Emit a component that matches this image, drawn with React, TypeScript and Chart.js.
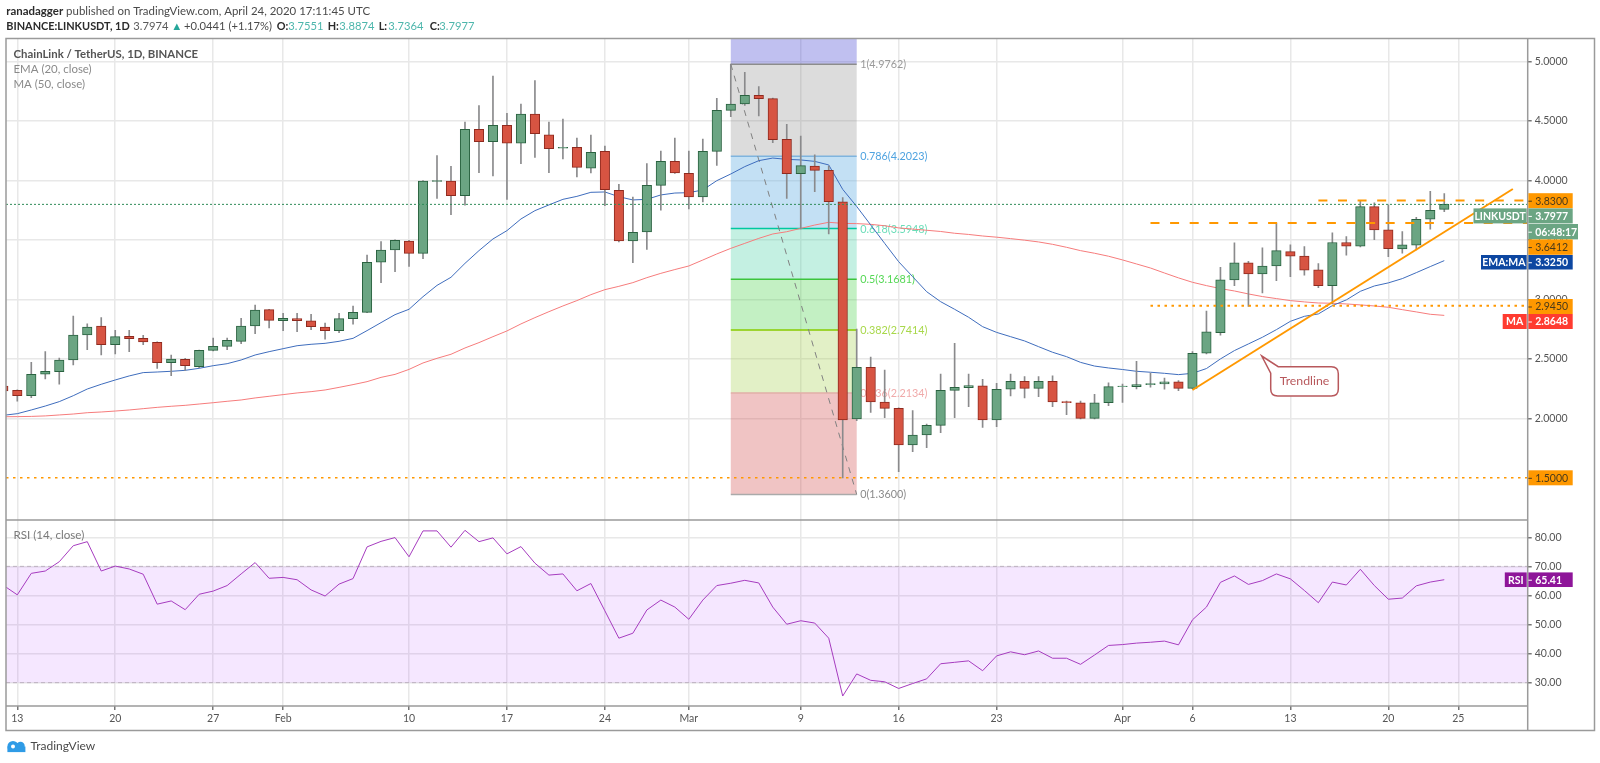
import React, { useEffect, useRef } from "react";
import { Chart, registerables } from "chart.js";

Chart.register(...registerables);

// ---- candles (first entry is Jan 12 2020, one candle per day) ----
const opens = [2.27,2.235,2.19,2.37,2.392,2.49,2.70,2.776,2.619,2.689,2.672,2.638,2.468,2.496,2.434,2.571,2.605,2.647,2.776,2.913,2.82,2.837,2.82,2.767,2.737,2.837,2.89,3.311,3.414,3.49,3.386,3.991,3.994,3.871,4.428,4.325,4.462,4.311,4.557,4.383,4.269,4.277,4.101,4.243,3.916,3.49,3.566,3.958,4.159,4.059,3.86,4.243,4.588,4.641,4.714,4.686,4.344,4.056,4.12,4.084,3.82,1.994,2.428,2.137,2.084,1.776,1.86,1.941,2.235,2.258,2.272,1.986,2.244,2.311,2.252,2.311,2.14,2.131,2.0,2.131,2.266,2.266,2.283,2.289,2.306,2.252,2.547,2.72,3.163,3.306,3.213,3.28,3.401,3.364,3.247,3.115,3.477,3.446,3.779,3.583,3.423,3.454,3.673,3.7551];
const highs = [2.28,2.24,2.47,2.56,2.507,2.86,2.793,2.846,2.739,2.739,2.697,2.642,2.532,2.504,2.574,2.675,2.675,2.84,2.952,2.915,2.882,2.882,2.874,2.801,2.882,2.944,3.372,3.484,3.50,3.496,3.997,4.207,4.117,4.49,4.627,4.876,4.563,4.641,4.837,4.49,4.515,4.355,4.381,4.288,3.966,3.86,4.14,4.246,4.355,4.246,4.347,4.689,4.976,4.907,4.787,4.69,4.47,4.372,4.213,4.12,3.854,2.75,2.515,2.406,2.087,2.064,1.952,2.372,2.63,2.372,2.328,2.294,2.372,2.35,2.35,2.356,2.145,2.145,2.201,2.299,2.288,2.479,2.381,2.339,2.317,2.56,2.902,3.269,3.474,3.32,3.432,3.641,3.457,3.443,3.30,3.558,3.527,3.83,3.81,3.793,3.569,3.689,3.908,3.8874];
const lows = [2.23,2.145,2.173,2.33,2.286,2.448,2.577,2.532,2.54,2.56,2.619,2.42,2.358,2.403,2.426,2.566,2.577,2.627,2.711,2.759,2.737,2.728,2.745,2.666,2.72,2.79,2.888,3.14,3.232,3.277,3.341,3.848,3.711,3.79,4.064,4.036,3.84,4.14,4.193,4.064,4.179,4.028,4.061,3.787,3.482,3.308,3.42,3.75,4.058,3.759,3.818,4.126,4.535,4.63,4.54,4.316,3.848,3.591,3.905,3.549,1.5,1.98,2.05,2.005,1.552,1.72,1.753,1.879,2.005,2.098,1.924,1.93,2.188,2.171,2.182,2.098,2.03,1.995,1.994,2.106,2.134,2.247,2.261,2.244,2.233,2.25,2.54,2.698,3.115,2.941,3.054,3.157,3.191,3.202,3.098,2.961,3.37,3.44,3.502,3.359,3.387,3.415,3.589,3.7364];
const closes = [2.23,2.19,2.37,2.395,2.49,2.70,2.767,2.619,2.686,2.669,2.641,2.468,2.498,2.442,2.571,2.605,2.655,2.776,2.91,2.823,2.84,2.82,2.77,2.737,2.837,2.89,3.311,3.414,3.496,3.386,3.994,3.997,3.871,4.428,4.325,4.462,4.311,4.557,4.392,4.266,4.277,4.109,4.235,3.921,3.49,3.563,3.958,4.159,4.061,3.86,4.243,4.588,4.641,4.714,4.686,4.341,4.056,4.123,4.084,3.82,1.986,2.428,2.137,2.084,1.776,1.86,1.941,2.235,2.26,2.274,1.986,2.244,2.311,2.252,2.311,2.137,2.132,2.0,2.131,2.266,2.271,2.283,2.292,2.306,2.252,2.547,2.726,3.163,3.306,3.213,3.28,3.409,3.362,3.244,3.115,3.477,3.446,3.779,3.583,3.426,3.457,3.673,3.748,3.7977];

// ---- moving averages and RSI, same days as the candles ----
const ema20 = [2.025,2.039,2.07,2.103,2.14,2.19,2.246,2.286,2.322,2.356,2.384,2.389,2.395,2.403,2.42,2.442,2.459,2.49,2.532,2.56,2.585,2.61,2.622,2.63,2.647,2.672,2.737,2.804,2.871,2.916,3.022,3.117,3.185,3.302,3.409,3.507,3.577,3.675,3.745,3.793,3.84,3.865,3.899,3.902,3.862,3.835,3.84,3.877,3.893,3.896,3.919,3.997,4.053,4.115,4.165,4.187,4.176,4.171,4.159,4.129,3.924,3.78,3.625,3.47,3.316,3.19,3.064,2.98,2.916,2.849,2.77,2.722,2.686,2.65,2.602,2.555,2.518,2.47,2.439,2.423,2.41,2.395,2.387,2.378,2.367,2.378,2.418,2.499,2.569,2.625,2.681,2.745,2.815,2.857,2.877,2.947,2.995,3.067,3.112,3.138,3.174,3.224,3.275,3.325];
const ma50 = [2.013,2.014,2.016,2.02,2.028,2.036,2.047,2.053,2.061,2.07,2.081,2.092,2.101,2.109,2.12,2.131,2.143,2.154,2.171,2.185,2.199,2.213,2.224,2.238,2.26,2.283,2.308,2.344,2.369,2.411,2.465,2.504,2.538,2.591,2.636,2.686,2.734,2.793,2.846,2.896,2.944,2.989,3.039,3.081,3.109,3.14,3.182,3.218,3.25,3.28,3.33,3.381,3.428,3.47,3.512,3.549,3.568,3.596,3.624,3.647,3.638,3.636,3.63,3.618,3.60,3.59,3.58,3.57,3.555,3.545,3.532,3.522,3.51,3.497,3.482,3.462,3.437,3.409,3.387,3.362,3.331,3.297,3.263,3.221,3.18,3.143,3.115,3.09,3.07,3.045,3.023,3.006,2.989,2.978,2.969,2.967,2.961,2.953,2.944,2.933,2.913,2.894,2.874,2.8648];
const rsi14 = [63.5,60.2,67.6,68.4,71.6,77.1,78.5,68.4,70.1,69.1,67.3,57.0,58.1,55.1,60.4,61.5,63.4,67.4,71.3,65.9,66.2,65.4,61.9,59.8,63.9,65.8,76.7,78.6,79.9,73.3,82.2,82.2,76.6,82.4,78.5,79.8,74.3,76.8,71.1,67.0,67.4,61.6,64.1,54.7,45.3,47.0,55.0,58.4,56.0,51.8,58.4,63.4,64.2,65.2,64.3,56.0,50.1,51.3,50.5,45.3,25.4,33.0,30.8,30.3,28.0,29.7,31.3,36.5,37.0,37.5,34.1,39.2,40.6,39.6,40.9,38.4,38.4,36.3,39.5,42.8,43.1,43.6,43.9,44.3,43.0,51.6,56.0,64.5,66.7,63.8,65.1,67.4,65.7,61.7,57.5,64.6,63.6,69.0,63.4,58.7,59.1,63.3,64.6,65.41];

// ---- axes ----
const tickDays = [0,7,14,19,28,35,42,48,56,63,70,79,84,91,98,103];
const tickLabels = ["13","20","27","Feb","10","17","24","Mar","9","16","23","Apr","6","13","20","25"];
const priceTicks = [2,2.5,3,3.5,4,4.5,5];
const rsiTicks = [30,40,50,60,70,80];
const rsiBand = [30,70];

// ---- drawings ----
const fibLevels = [1,0.786,0.618,0.5,0.382,0.236,0];
const fibPrices = [4.9762,4.2023,3.5948,3.1681,2.7414,2.2134,1.36];
const fibDays = [51,60];
const trendDays = [84,106.9];
const trendPrices = [2.238,3.927];
const calloutTip = [88.95,2.5235];
const level383 = 3.83;
const level364 = 3.6412;
const level294 = 2.945;
const level150 = 1.5;
const lastClose = 3.7977;
const levelStartDay = [93,81,81];

const FONT = "Lato, 'Open Sans', sans-serif";
const AXIS_X = 1527.7;
const TOP = 38.5;
const SPLIT = 520;
const XAXIS_Y = 706;
const FRAME_R = 1594.5;
const FRAME_B = 730.5;

const UP = "#6BA583", UP_B = "#2A6240", DN = "#D75442", DN_B = "#8F2A1F", WICK = "#8A8A8C";
const fibFill = ["rgba(45,45,205,0.30)","rgba(128,128,128,0.28)","rgba(97,173,226,0.38)","rgba(58,205,158,0.30)","rgba(55,205,55,0.30)","rgba(158,205,65,0.30)","rgba(205,59,59,0.30)"];
const fibLine = ["#8C8C8C","#7FB4DE","#00C8A0","#3CC43C","#88CC00","#E2B0A8","#AAAAAA"];
const fibText = ["#9A9A9A","#4FA3E0","#6ADDB8","#55D855","#A8D84A","#F0AAAA","#8A8A8A"];

type Run = [string, string, boolean?];

function runs(ctx: CanvasRenderingContext2D, x: number, y: number, size: number, items: Run[]) {
  ctx.textAlign = "left";
  ctx.textBaseline = "middle";
  let cx = x;
  for (const [t, c, b] of items) {
    ctx.font = `${b ? "bold " : ""}${size}px ${FONT}`;
    ctx.fillStyle = c;
    ctx.fillText(t, cx, y);
    cx += ctx.measureText(t).width;
  }
}

function hline(ctx: CanvasRenderingContext2D, x0: number, x1: number, y: number, color: string, w: number, dash: number[]) {
  ctx.save();
  ctx.strokeStyle = color;
  ctx.lineWidth = w;
  ctx.setLineDash(dash);
  ctx.beginPath();
  ctx.moveTo(x0, y);
  ctx.lineTo(x1, y);
  ctx.stroke();
  ctx.restore();
}

const underlay = {
  id: "underlay",
  beforeDatasetsDraw(chart: any) {
    const { ctx, scales } = chart;
    const { x, y, yRsi } = scales;
    const xl = x.left;
    ctx.save();
    // RSI band
    const by0 = yRsi.getPixelForValue(rsiBand[1]);
    const by1 = yRsi.getPixelForValue(rsiBand[0]);
    ctx.fillStyle = "rgba(153,21,255,0.10)";
    ctx.fillRect(xl, by0, AXIS_X - xl, by1 - by0);
    hline(ctx, xl, AXIS_X, by0, "#BDB2C0", 1, [4, 3]);
    hline(ctx, xl, AXIS_X, by1, "#BDB2C0", 1, [4, 3]);
    // Fibonacci retracement
    const fx0 = x.getPixelForValue(fibDays[0]);
    const fx1 = x.getPixelForValue(fibDays[1]);
    let prev = y.top;
    fibPrices.forEach((p, i) => {
      const py = y.getPixelForValue(p);
      ctx.fillStyle = fibFill[i];
      ctx.fillRect(fx0, prev, fx1 - fx0, py - prev);
      prev = py;
    });
    fibPrices.forEach((p, i) => {
      const py = y.getPixelForValue(p);
      hline(ctx, fx0, fx1, py, fibLine[i], 1.5, []);
      ctx.font = `10.8px ${FONT}`;
      ctx.fillStyle = fibText[i];
      ctx.textAlign = "left";
      ctx.textBaseline = "middle";
      ctx.fillText(`${fibLevels[i]}(${p.toFixed(4)})`, fx1 + 3.5, py + 0.5);
    });
    ctx.strokeStyle = "#808080";
    ctx.lineWidth = 1;
    ctx.setLineDash([6, 6]);
    ctx.beginPath();
    ctx.moveTo(fx0, y.getPixelForValue(fibPrices[0]));
    ctx.lineTo(fx1, y.getPixelForValue(fibPrices[6]));
    ctx.stroke();
    ctx.restore();
  },
};

const overlay = {
  id: "overlay",
  afterDatasetsDraw(chart: any) {
    const { ctx, scales } = chart;
    const { x, y, yRsi } = scales;
    const xl = x.left;
    ctx.save();
    // horizontal levels
    const ORANGE = "#FF9800";
    hline(ctx, xl, AXIS_X, y.getPixelForValue(lastClose), "#2E8B57", 1, [2, 2]);
    hline(ctx, xl, AXIS_X, y.getPixelForValue(level150), ORANGE, 1.5, [2.5, 4.5]);
    hline(ctx, x.getPixelForValue(levelStartDay[0]), AXIS_X, y.getPixelForValue(level383), ORANGE, 2, [9, 10.6]);
    hline(ctx, x.getPixelForValue(levelStartDay[1]), AXIS_X, y.getPixelForValue(level364), ORANGE, 2, [9, 10.6]);
    hline(ctx, x.getPixelForValue(levelStartDay[2]), AXIS_X, y.getPixelForValue(level294), ORANGE, 2, [2.5, 4.5]);
    // trend line
    ctx.strokeStyle = ORANGE;
    ctx.lineWidth = 2;
    ctx.beginPath();
    ctx.moveTo(x.getPixelForValue(trendDays[0]), y.getPixelForValue(trendPrices[0]));
    ctx.lineTo(x.getPixelForValue(trendDays[1]), y.getPixelForValue(trendPrices[1]));
    ctx.stroke();
    // callout
    const tx = x.getPixelForValue(calloutTip[0]);
    const ty = y.getPixelForValue(calloutTip[1]);
    const bl = tx + 9, bt = ty + 10.7, br = tx + 76.6, bb = ty + 40, rad = 7;
    ctx.beginPath();
    ctx.moveTo(tx, ty);
    ctx.lineTo(tx + 16.5, bt);
    ctx.lineTo(br - rad, bt);
    ctx.quadraticCurveTo(br, bt, br, bt + rad);
    ctx.lineTo(br, bb - rad);
    ctx.quadraticCurveTo(br, bb, br - rad, bb);
    ctx.lineTo(bl + rad, bb);
    ctx.quadraticCurveTo(bl, bb, bl, bb - rad);
    ctx.lineTo(bl, bt + 6.5);
    ctx.closePath();
    ctx.fillStyle = "#FFFFFF";
    ctx.fill();
    ctx.strokeStyle = "#B8585C";
    ctx.lineWidth = 1.5;
    ctx.stroke();
    ctx.font = `12.3px ${FONT}`;
    ctx.fillStyle = "#B8585C";
    ctx.textAlign = "center";
    ctx.textBaseline = "middle";
    ctx.fillText("Trendline", (bl + br) / 2, (bt + bb) / 2);
    // panel frame
    ctx.fillStyle = "#FFFFFF";
    ctx.fillRect(0, 0, 1600, TOP - 0.75);
    ctx.strokeStyle = "#9A9A9A";
    ctx.lineWidth = 1.5;
    ctx.strokeRect(6, TOP, FRAME_R - 6, FRAME_B - TOP);
    hline(ctx, 6, AXIS_X, SPLIT, "#9A9A9A", 1.5, []);
    hline(ctx, 6, AXIS_X, XAXIS_Y, "#9A9A9A", 1.5, []);
    ctx.beginPath();
    ctx.moveTo(AXIS_X, TOP);
    ctx.lineTo(AXIS_X, FRAME_B);
    ctx.stroke();
    // header
    runs(ctx, 6.3, 11, 11.45, [["ranadagger", "#2B2B2B", true], [" published on TradingView.com, April 24, 2020 17:11:45 UTC", "#4A4A4A"]]);
    runs(ctx, 6.3, 26.7, 10.9, [["BINANCE:LINKUSDT, 1D", "#2B2B2B", true]]);
    runs(ctx, 133.3, 26.7, 11.2, [["3.7974", "#5A5A5A"]]);
    runs(ctx, 171.2, 26.7, 11.2, [["▲", "#26A69A"]]);
    runs(ctx, 184, 26.7, 11.2, [["+0.0441 (+1.17%)", "#4A4A4A"]]);
    const ohlcLabels = ["O:", "H:", "L:", "C:"];
    const ohlcTexts = ["3.7551", "3.8874", "3.7364", "3.7977"];
    ohlcLabels.forEach((lab, i) => {
      runs(ctx, 276.7 + i * 51, 26.7, 10.9, [[lab, "#2B2B2B", true]]);
      runs(ctx, 288.3 + i * 51 - (i >= 2 ? 2 : 0), 26.7, 11.2, [[ohlcTexts[i], "#4DB6AC"]]);
    });
    runs(ctx, 13.5, 54, 11.4, [["ChainLink / TetherUS, 1D, BINANCE", "#555555", true]]);
    runs(ctx, 13.5, 69.5, 11.45, [["EMA (20, close)", "#8A8A8A"]]);
    runs(ctx, 13.5, 84.7, 11.45, [["MA (50, close)", "#8A8A8A"]]);
    runs(ctx, 13.5, 535.7, 11.6, [["RSI (14, close)", "#7A7A7A"]]);
    // price tags
    const tag = (text: string, top: number, h: number, bg: string, fg: string, leftText?: string, leftX?: number, w = 44.3) => {
      if (leftText) {
        ctx.fillStyle = bg;
        ctx.fillRect(leftX, top, AXIS_X - leftX! - 1, h);
        ctx.font = `bold 10.5px ${FONT}`;
        ctx.fillStyle = fg;
        ctx.textAlign = "center";
        ctx.textBaseline = "middle";
        ctx.fillText(leftText, (leftX! + AXIS_X) / 2 - 0.5, top + h / 2 + 0.5);
      }
      ctx.fillStyle = bg;
      ctx.fillRect(AXIS_X + 0.7, top, w, h);
      ctx.fillStyle = fg;
      ctx.fillRect(AXIS_X + 0.7, top + h / 2, 3.5, 1);
      ctx.font = `${fg === "#FFFFFF" ? "bold " : ""}10.5px ${FONT}`;
      ctx.fillStyle = fg;
      ctx.textAlign = "left";
      ctx.textBaseline = "middle";
      ctx.fillText(text, AXIS_X + 7.5, top + h / 2 + 0.5);
    };
    const ORANGE_TAG = "#FF9800", DARK = "#4A3A1A", WHITE = "#FFFFFF";
    tag(level383.toFixed(4), 193.2, 15, ORANGE_TAG, DARK);
    tag(lastClose.toFixed(4), 208.4, 15, UP, WHITE, "LINKUSDT", 1473.5);
    tag("06:48:17", 224, 15.4, UP, WHITE, undefined, undefined, 49.6);
    tag(level364.toFixed(4), 239.4, 15.4, ORANGE_TAG, DARK);
    tag(ema20[ema20.length - 1].toFixed(4), 255, 14.5, "#0D47A1", WHITE, "EMA:MA", 1481);
    tag(level294.toFixed(4), 299, 15, ORANGE_TAG, DARK);
    tag(ma50[ma50.length - 1].toFixed(4), 314, 15, "#FF3B30", WHITE, "MA", 1502.7);
    tag(level150.toFixed(4), y.getPixelForValue(level150) - 7.5, 15, ORANGE_TAG, DARK);
    tag(rsi14[rsi14.length - 1].toFixed(2), yRsi.getPixelForValue(65.41) - 7.3, 14.6, "#8E1599", WHITE, "RSI", 1504.8);
    // TradingView mark
    ctx.fillStyle = "#2F9BE6";
    ctx.beginPath();
    ctx.arc(13, 746.5, 5.6, 0, Math.PI * 2);
    ctx.arc(20.5, 746, 4.2, 0, Math.PI * 2);
    ctx.fill();
    ctx.fillRect(7.4, 746.5, 18, 5.6);
    ctx.fillStyle = "#FFFFFF";
    ctx.beginPath();
    ctx.arc(13, 746.5, 2, 0, Math.PI * 2);
    ctx.fill();
    runs(ctx, 30.5, 746.5, 12, [["TradingView", "#4A4A4A"]]);
    ctx.restore();
  },
};

export default function App() {
  const ref = useRef<HTMLCanvasElement | null>(null);
  useEffect(() => {
    document.body.style.margin = "0";
    const days = opens.map((_, i) => i - 1);
    const upFlags = opens.map((o, i) => closes[i] >= o);
    const series = (vals: number[]) => vals.map((v, i) => ({ x: days[i], y: v }));
    const chart = new Chart(ref.current as HTMLCanvasElement, {
      type: "bar",
      data: {
        datasets: [
          { type: "line", label: "MA 50", data: series(ma50), yAxisID: "y", borderColor: "#F67C7C", borderWidth: 1, pointRadius: 0, tension: 0, order: 6 },
          { type: "line", label: "EMA 20", data: series(ema20), yAxisID: "y", borderColor: "#3F6DBD", borderWidth: 1, pointRadius: 0, tension: 0, order: 5 },
          { type: "bar", label: "Wicks", data: days.map((d, i) => ({ x: d, y: [lows[i], highs[i]] })), yAxisID: "y", backgroundColor: WICK, barThickness: 1, grouped: false, order: 4 },
          { type: "bar", label: "Bodies", data: days.map((d, i) => ({ x: d, y: [opens[i], closes[i]] })), yAxisID: "y", backgroundColor: upFlags.map((u) => (u ? UP : DN)), borderColor: upFlags.map((u) => (u ? UP_B : DN_B)), borderWidth: 1, borderSkipped: false, barThickness: 9.5, grouped: false, order: 3 },
          { type: "line", label: "RSI", data: series(rsi14), yAxisID: "yRsi", borderColor: "#A63CBF", borderWidth: 1, pointRadius: 0, tension: 0, order: 2 },
        ],
      } as any,
      options: {
        animation: false,
        responsive: false,
        devicePixelRatio: 1,
        events: [],
        layout: { padding: { left: 6, top: TOP, right: 0, bottom: 0 } },
        plugins: { legend: { display: false }, tooltip: { enabled: false } },
        scales: {
          x: {
            type: "linear",
            offset: false,
            min: (6 - 17.3) / 13.99,
            max: (AXIS_X - 17.3) / 13.99,
            afterBuildTicks: (s: any) => { s.ticks = tickDays.map((v) => ({ value: v })); },
            afterFit: (s: any) => { s.height = 763 - XAXIS_Y; },
            grid: { offset: false, color: "#E8E8E8", lineWidth: 1.5, tickLength: 4, tickColor: "#777777" },
            border: { display: false },
            ticks: {
              autoSkip: false, maxRotation: 0, padding: 2, color: "#555555", font: { family: FONT, size: 10.5 },
              callback: (v: any) => tickLabels[tickDays.indexOf(v)],
            },
          },
          y: {
            type: "linear",
            position: "right",
            stack: "panes",
            stackWeight: SPLIT - TOP,
            weight: 1,
            min: 5 - (SPLIT - 61.3) / 119,
            max: 5 + (61.3 - TOP) / 119,
            afterBuildTicks: (s: any) => { s.ticks = priceTicks.map((v) => ({ value: v })); },
            afterFit: (s: any) => { s.width = 1600 - AXIS_X; },
            grid: { color: "#E8E8E8", lineWidth: 1.5, tickLength: 4, tickColor: "#777777" },
            border: { display: false },
            ticks: { padding: 3, color: "#555555", font: { family: FONT, size: 10.5 }, callback: (v: any) => Number(v).toFixed(4) },
          },
          yRsi: {
            type: "linear",
            position: "right",
            stack: "panes",
            stackWeight: XAXIS_Y - SPLIT,
            weight: 2,
            min: 80 - (XAXIS_Y - 537.3) / 2.907,
            max: 80 + (537.3 - SPLIT) / 2.907,
            afterBuildTicks: (s: any) => { s.ticks = rsiTicks.map((v) => ({ value: v })); },
            afterFit: (s: any) => { s.width = 1600 - AXIS_X; },
            grid: { color: "#E8E8E8", lineWidth: 1.5, tickLength: 4, tickColor: "#777777" },
            border: { display: false },
            ticks: { padding: 3, color: "#555555", font: { family: FONT, size: 10.5 }, callback: (v: any) => Number(v).toFixed(2) },
          },
        },
      } as any,
      plugins: [underlay, overlay],
    });
    return () => chart.destroy();
  }, []);
  return <canvas ref={ref} width={1600} height={763} style={{ position: "absolute", left: 0, top: 0, width: 1600, height: 763, display: "block" }} />;
}
